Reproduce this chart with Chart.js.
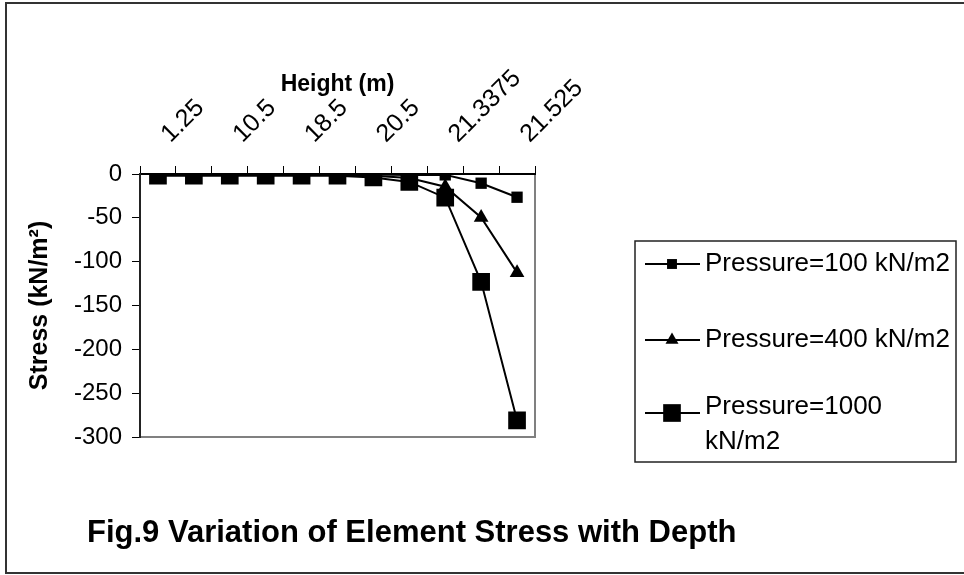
<!DOCTYPE html>
<html>
<head>
<meta charset="utf-8">
<title>Fig.9 Variation of Element Stress with Depth</title>
<script src="https://cdn.jsdelivr.net/npm/chart.js@4.4.1/dist/chart.umd.min.js"></script>
<style>
  html, body { margin: 0; padding: 0; background: #fff; }
  #wrap { width: 964px; height: 575px; position: relative; }
</style>
</head>
<body>
<div id="wrap"><canvas id="chart" width="964" height="575"></canvas></div>
<script>
// Category labels: height (m). Only every other one is printed on the axis.
const heights = ['1.25', '6', '10.5', '14.5', '18.5', '19.5', '20.5', '21', '21.3375', '21.45', '21.525'];

// Element stress (kN/m2)
const stress100  = [-0.5, -0.5, -0.5, -0.5, -0.5, -0.5, -0.5, -1, -1, -10.5, -26.5];
const stress400  = [-1, -1, -1, -1, -1, -1, -2, -4.5, -14.5, -49.5, -112.5];
const stress1000 = [-2, -2, -2, -2, -2, -2, -4, -9, -27, -123, -281];

const seriesNames = ['Pressure=100 kN/m2', 'Pressure=400 kN/m2', 'Pressure=1000 kN/m2'];
const yTicks = [0, -50, -100, -150, -200, -250, -300];

const FONT = "'Liberation Sans', Arial, sans-serif";
const figTitle = 'Fig.9 Variation of Element Stress with Depth';

// marker helper (used in the legend box)
function marker(ctx, style, x, y, r) {
  ctx.beginPath();
  if (style === 'triangle') {
    ctx.moveTo(x, y - r);
    ctx.lineTo(x + r * 0.866, y + r * 0.5);
    ctx.lineTo(x - r * 0.866, y + r * 0.5);
    ctx.closePath();
  } else {
    const s = Math.SQRT1_2 * r;
    ctx.rect(x - s, y - s, 2 * s, 2 * s);
  }
  ctx.fill();
}

function wrapText(ctx, text, maxW) {
  const words = text.split(' ');
  const lines = [];
  let cur = '';
  words.forEach(w => {
    const test = cur ? cur + ' ' + w : w;
    if (ctx.measureText(test).width > maxW && cur) {
      lines.push(cur);
      cur = w;
    } else {
      cur = test;
    }
  });
  if (cur) lines.push(cur);
  return lines;
}

const decor = {
  id: 'decor',
  beforeDraw(chart) {
    const ctx = chart.ctx;
    const a = chart.chartArea;
    ctx.save();
    ctx.fillStyle = '#fff';
    ctx.fillRect(0, 0, chart.width, chart.height);
    // outer frame
    ctx.strokeStyle = '#333';
    ctx.lineWidth = 2;
    ctx.beginPath();
    ctx.moveTo(964, 3); ctx.lineTo(6, 3); ctx.lineTo(6, 573); ctx.lineTo(964, 573);
    ctx.stroke();
    // plot area border (grey)
    ctx.strokeStyle = '#808080';
    ctx.lineWidth = 2;
    ctx.strokeRect(a.left, a.top, a.right - a.left, a.bottom - a.top);
    ctx.restore();
  },
  afterDraw(chart) {
    const ctx = chart.ctx;
    ctx.save();
    // legend box
    const box = { x: 635, y: 241, w: 321, h: 221 };
    ctx.strokeStyle = '#222';
    ctx.lineWidth = 1.5;
    ctx.strokeRect(box.x, box.y, box.w, box.h);
    ctx.font = '26px ' + FONT;
    ctx.fillStyle = '#000';
    ctx.textBaseline = 'middle';
    ctx.textAlign = 'left';
    const rowTops = [264, 340, 407];
    chart.data.datasets.forEach((ds, k) => {
      const rowY = rowTops[k];
      const lines = wrapText(ctx, ds.label, box.x + box.w - 705 - 2);
      const my = lines.length > 1 ? rowY + 6 : rowY;
      ctx.strokeStyle = '#000';
      ctx.lineWidth = 2;
      ctx.beginPath();
      ctx.moveTo(645, my); ctx.lineTo(700, my);
      ctx.stroke();
      marker(ctx, ds.pointStyle, 672, my, ds.legendRadius);
      lines.forEach((ln, i) => ctx.fillText(ln, 705, rowY + i * 35));
    });
    // figure caption
    ctx.textBaseline = 'alphabetic';
    ctx.font = 'bold 31px ' + FONT;
    ctx.fillText(figTitle, 87, 542);
    ctx.restore();
  }
};

const series = [stress100, stress400, stress1000];
const styles = [
  { pointStyle: 'rect', radius: 8, legendRadius: 7 },
  { pointStyle: 'triangle', radius: 8.5, legendRadius: 7.5 },
  { pointStyle: 'rect', radius: 12.5, legendRadius: 12.5 }
];

new Chart(document.getElementById('chart'), {
  type: 'line',
  data: {
    labels: heights,
    datasets: series.map((vals, i) => ({
      label: seriesNames[i],
      data: vals,
      borderColor: '#000',
      backgroundColor: '#000',
      borderWidth: 2,
      pointStyle: styles[i].pointStyle,
      pointRadius: styles[i].radius,
      pointHoverRadius: styles[i].radius,
      pointBorderWidth: 0,
      legendRadius: styles[i].legendRadius,
      tension: 0
    }))
  },
  options: {
    responsive: false,
    animation: false,
    devicePixelRatio: 1,
    layout: { padding: { left: 8, top: 8, right: 429, bottom: 138 } },
    plugins: {
      legend: { display: false },
      tooltip: { enabled: false },
      title: { display: false }
    },
    scales: {
      x: {
        position: 'top',
        offset: true,
        afterFit: s => { s.height = 166; },
        grid: {
          offset: true,
          drawOnChartArea: false,
          tickLength: 8,
          color: '#000',
          lineWidth: 1
        },
        border: { color: '#000', width: 2 },
        ticks: {
          autoSkip: false,
          minRotation: 45,
          maxRotation: 45,
          padding: 17,
          labelOffset: 29,
          color: '#000',
          font: { family: FONT, size: 25 },
          callback: (v, i) => (i % 2 === 0 ? heights[i] : '')
        },
        title: {
          display: true,
          text: 'Height (m)',
          color: '#000',
          font: { family: FONT, size: 23, weight: 'bold' },
          padding: { top: 63, bottom: 0 }
        }
      },
      y: {
        min: -300,
        max: 0,
        afterFit: s => { s.width = 132; },
        afterBuildTicks: s => { s.ticks = yTicks.map(v => ({ value: v })); },
        grid: {
          drawOnChartArea: false,
          tickLength: 8,
          color: '#000',
          lineWidth: 1
        },
        border: { color: '#222', width: 2 },
        ticks: {
          padding: 10,
          color: '#000',
          font: { family: FONT, size: 24 }
        },
        title: {
          display: true,
          text: 'Stress (kN/m²)',
          color: '#000',
          font: { family: FONT, size: 25, weight: 'bold' },
          padding: { top: 17, bottom: 0 }
        }
      }
    }
  },
  plugins: [decor]
});
</script>
</body>
</html>
